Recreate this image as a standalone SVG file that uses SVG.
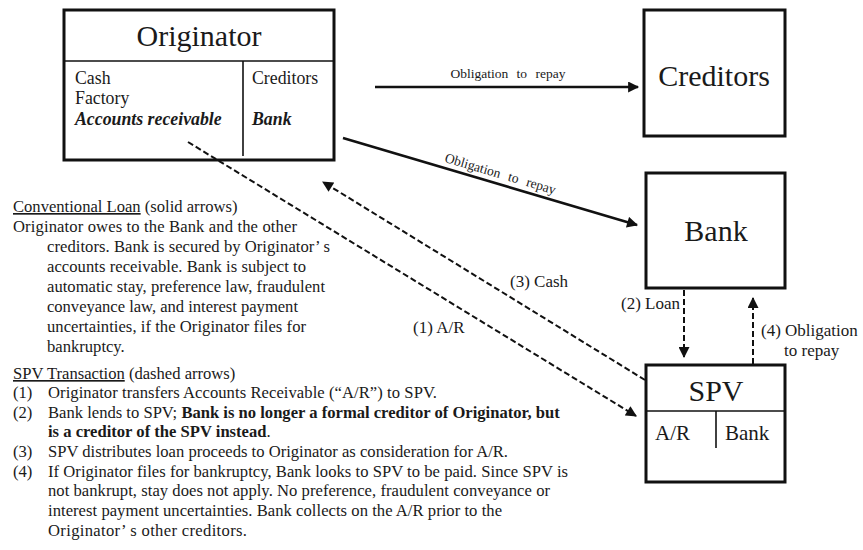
<svg xmlns="http://www.w3.org/2000/svg" width="863" height="550" viewBox="0 0 863 550" font-family="'Liberation Serif', 'DejaVu Serif', serif">
<defs>
<marker id="ah" viewBox="0 0 10 10" refX="9" refY="5" markerWidth="12" markerHeight="11" markerUnits="userSpaceOnUse" orient="auto"><path d="M0,0 L10,5 L0,10 Z" fill="#111"/></marker>
<style>
.box{fill:#fff;stroke:#111;stroke-width:3}
.div{stroke:#111;stroke-width:1.6;fill:none}
text{font-family:'Liberation Serif', 'DejaVu Serif', serif;fill:#1a1a1a}
.big{font-size:30px}
.in{font-size:17.8px}
.cell{font-size:21px}
.arr{font-size:17px}
.sm{font-size:16.6px}
.lbl{font-size:13.5px;word-spacing:5px}
.solid{stroke:#111;stroke-width:2.5;fill:none}
.dash{stroke:#111;stroke-width:2;stroke-dasharray:6 3;fill:none}
.bi{font-weight:bold;font-style:italic}
.b{font-weight:bold}
</style>
</defs>
<rect width="863" height="550" fill="#fff"/>

<g id="originator">
<rect class="box" x="64" y="10" width="270" height="150"/>
<line class="div" x1="64" y1="61" x2="334" y2="61"/>
<line class="div" x1="243" y1="61" x2="243" y2="156"/>
<text class="big" x="199" y="46" text-anchor="middle">Originator</text>
<text class="in" x="75" y="84">Cash</text>
<text class="in" x="75" y="104">Factory</text>
<text class="in bi" x="75" y="125">Accounts receivable</text>
<text class="in" x="252" y="84">Creditors</text>
<text class="in bi" x="252" y="125">Bank</text>
</g>

<g id="creditors">
<rect class="box" x="644" y="10" width="141" height="126"/>
<text class="big" x="714" y="86" text-anchor="middle">Creditors</text>
</g>

<g id="bank">
<rect class="box" x="646" y="173" width="139" height="115"/>
<text class="big" x="716" y="241" text-anchor="middle">Bank</text>
</g>

<g id="spv">
<rect class="box" x="646" y="365" width="139" height="117"/>
<line class="div" x1="646" y1="411" x2="785" y2="411"/>
<line class="div" x1="716" y1="411" x2="716" y2="448"/>
<text class="big" x="716" y="401" text-anchor="middle">SPV</text>
<text class="cell" x="655" y="440">A/R</text>
<text class="cell" x="725" y="440">Bank</text>
</g>

<g id="connectors">
<line class="solid" x1="375" y1="87" x2="638" y2="87" stroke-width="3" marker-end="url(#ah)"/>
<text class="lbl" x="508" y="78" text-anchor="middle">Obligation to repay</text>
<line class="solid" x1="343" y1="138" x2="637" y2="225" marker-end="url(#ah)"/>
<text class="lbl" x="0" y="0" text-anchor="middle" transform="translate(499 178) rotate(16.5)">Obligation to repay</text>
<line class="dash" x1="188" y1="142" x2="636" y2="416" marker-end="url(#ah)"/>
<text class="arr" x="413" y="333">(1) A/R</text>
<line class="dash" x1="645" y1="380" x2="323" y2="182" marker-end="url(#ah)"/>
<text class="arr" x="510" y="287">(3) Cash</text>
<line class="dash" x1="684" y1="290" x2="684" y2="357" marker-end="url(#ah)"/>
<text class="arr" x="680" y="309" text-anchor="end">(2) Loan</text>
<line class="dash" x1="753" y1="364" x2="753" y2="298" marker-end="url(#ah)"/>
<text class="arr" x="761" y="336">(4) Obligation</text>
<text class="arr" x="784" y="356">to repay</text>
</g>

<g id="notes">
<text class="sm" x="13" y="212"><tspan text-decoration="underline">Conventional Loan</tspan> (solid arrows)</text>
<text class="sm" x="13" y="232" textLength="284" lengthAdjust="spacing">Originator owes to the Bank and  the other</text>
<text class="sm" x="47" y="252" textLength="283" lengthAdjust="spacing">creditors. Bank is secured by Originator’ s</text>
<text class="sm" x="47" y="272" textLength="259" lengthAdjust="spacing">accounts receivable. Bank is subject to</text>
<text class="sm" x="47" y="292" textLength="278" lengthAdjust="spacing">automatic stay, preference law, fraudulent</text>
<text class="sm" x="47" y="312" textLength="251" lengthAdjust="spacing">conveyance law, and interest payment</text>
<text class="sm" x="47" y="332" textLength="259" lengthAdjust="spacing">uncertainties, if the Originator files for</text>
<text class="sm" x="47" y="352">bankruptcy.</text>
<text class="sm" x="13" y="379"><tspan text-decoration="underline">SPV Transaction</tspan> (dashed arrows)</text>
<text class="sm" x="13" y="398">(1)</text>
<text class="sm" x="48" y="398" textLength="389" lengthAdjust="spacing">Originator transfers Accounts Receivable (“A/R”) to SPV.</text>
<text class="sm" x="13" y="418">(2)</text>
<text class="sm" x="48" y="418">Bank lends to SPV; <tspan class="b">Bank is no longer a formal creditor of Originator, but</tspan></text>
<text class="sm b" x="48" y="437">is a creditor of the SPV instead<tspan font-weight="normal">.</tspan></text>
<text class="sm" x="13" y="457">(3)</text>
<text class="sm" x="48" y="457" textLength="460" lengthAdjust="spacing">SPV distributes loan proceeds to Originator as consideration for A/R.</text>
<text class="sm" x="13" y="477">(4)</text>
<text class="sm" x="48" y="477" textLength="520" lengthAdjust="spacing">If Originator files for bankruptcy, Bank looks to SPV to be paid. Since SPV is</text>
<text class="sm" x="48" y="496" textLength="502" lengthAdjust="spacing">not bankrupt, stay does not apply. No preference, fraudulent conveyance or</text>
<text class="sm" x="48" y="516" textLength="454" lengthAdjust="spacing">interest payment uncertainties. Bank collects on the A/R prior to the</text>
<text class="sm" x="48" y="536" textLength="199" lengthAdjust="spacing">Originator’ s other creditors.</text>
</g>
</svg>
